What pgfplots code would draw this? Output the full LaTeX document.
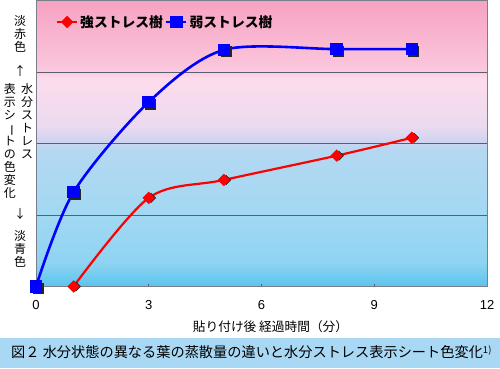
\documentclass[border=0pt]{standalone}
\usepackage{pgfplots}
\pgfplotsset{compat=1.18}
\usepackage{fontspec}
\usepackage{graphicx}
\setmainfont{Liberation Sans}
\newfontfamily\jp{Noto Sans CJK JP}
\definecolor{capblue}{HTML}{A9D8F5}
\definecolor{gridc}{HTML}{5A5E6E}
\definecolor{axc}{HTML}{7A7E8A}
\pgfdeclareverticalshading{plotbg}{100bp}{%
rgb(0bp)=(0.361,0.769,0.933);
rgb(25bp)=(0.361,0.769,0.933);
rgb(29.2bp)=(0.557,0.831,0.949);
rgb(37.6bp)=(0.635,0.847,0.949);
rgb(48.8bp)=(0.706,0.847,0.949);
rgb(50.2bp)=(0.800,0.831,0.941);
rgb(53.1bp)=(0.925,0.855,0.941);
rgb(61.4bp)=(0.992,0.863,0.925);
rgb(62.8bp)=(0.984,0.784,0.867);
rgb(75bp)=(0.965,0.635,0.765);
rgb(100bp)=(0.965,0.635,0.765)}
\begin{document}
\begin{tikzpicture}
\useasboundingbox (0,0) rectangle (500pt,368pt);
\fill[capblue] (0,0) rectangle (500pt,30pt);
\node[anchor=west, inner sep=0pt, font=\jp\fontsize{14.2}{15}\selectfont] at (11pt,16pt)
 {図２ 水分状態の異なる葉の蒸散量の違いと水分ストレス表示シート色変化\raisebox{0.55ex}{\fontsize{9.5}{9.5}\selectfont 1)}};
\begin{axis}[
  at={(36pt,81.5pt)}, anchor=south west, scale only axis,
  width=451pt, height=286pt,
  xmin=0, xmax=12, ymin=0, ymax=4,
  xtick={0,3,6,9,12}, ytick={1,2,3}, yticklabels={},
  ymajorgrids, grid style={gridc, line width=0.7pt},
  ytick style={draw=none}, xtick pos=bottom,
  major tick length=3pt, xtick style={gridc, line width=0.7pt},
  axis line style={axc, line width=0.9pt},
  axis background/.style={shading=plotbg},
  clip=false,
  /pgf/number format/assume math mode=true,
  xticklabel style={font=\fontsize{13}{14}\selectfont, yshift=-10pt},
  xlabel={\jp 貼り付け後 経過時間（分）},
  xlabel style={font=\jp\fontsize{12.7}{14}\selectfont, at={(axis cs:6.24,0)}, anchor=center, yshift=-40.5pt},
  legend style={at={(axis description cs:0.044,0.925)}, anchor=west, draw=none, fill=none,
    font=\jp\bfseries\fontsize{13.8}{15}\selectfont, inner sep=0pt},
  legend columns=-1,
  legend image code/.code={\draw[mark repeat=2,mark phase=2] plot coordinates {(0pt,0pt) (10pt,0pt) (20pt,0pt)};},
]
\addplot[only marks, mark=square*, mark size=3.3pt, color=black!85, mark options={rotate=45, xshift=1.6pt, yshift=-1.6pt}, forget plot]
 coordinates {(1,0) (3,1.24) (5,1.49) (8,1.83) (10,2.08)};
\addplot[only marks, mark=square*, mark size=5pt, color=black!85, mark options={xshift=1.8pt, yshift=-1.8pt}, forget plot]
 coordinates {(0,0) (1,1.32) (3,2.58) (5,3.31) (8,3.32) (10,3.32)};
\addplot[red, line width=2.2pt, smooth, mark=square*, mark size=3.3pt, mark options={rotate=45, solid, fill=red}]
 coordinates {(1,0) (3,1.24) (5,1.49) (8,1.83) (10,2.08)};
\addlegendentry{強ストレス樹}
\addplot[blue, line width=2.6pt, smooth, mark=square*, mark size=5pt, mark options={solid, fill=blue}]
 coordinates {(0,0) (1,1.32) (3,2.58) (5,3.31) (8,3.32) (10,3.32)};
\addlegendentry{弱ストレス樹}
\end{axis}
\begin{scope}[every node/.style={inner sep=0pt, align=center, font=\jp\fontsize{12}{13}\selectfont}]
\node[anchor=north] at (20pt,353pt) {淡\\赤\\色};
\node at (20pt,297pt) {↑};
\node[anchor=north] at (27pt,284.5pt) {水\\分\\ス\\ト\\レ\\ス};
\node[anchor=north] at (10pt,284.5pt) {表\\示\\シ\\\rotatebox[origin=c]{-90}{ー}\\ト\\の\\色\\変\\化};
\node at (20pt,154pt) {↓};
\node[anchor=north] at (20pt,138pt) {淡\\青\\色};
\end{scope}
\end{tikzpicture}
\end{document}
